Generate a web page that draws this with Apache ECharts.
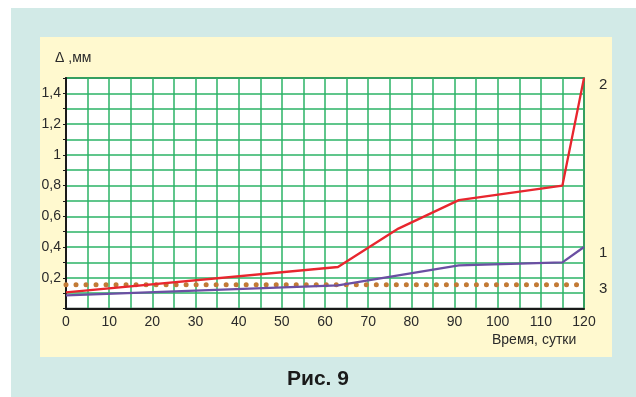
<!DOCTYPE html>
<html>
<head>
<meta charset="utf-8">
<style>
html,body{margin:0;padding:0;background:#fff;}
#c{width:636px;height:397px;}
</style>
<script src="https://cdn.jsdelivr.net/npm/echarts@6/dist/echarts.min.js"></script>
</head>
<body>
<div id="c"></div>
<script>
// Data
var xTicks = [0, 10, 20, 30, 40, 50, 60, 70, 80, 90, 100, 110, 120];
var yTickLabels = ['0,2', '0,4', '0,6', '0,8', '1', '1,2', '1,4'];
var curve2Days = [0, 63, 77, 91, 115, 120];
var curve2Vals = [0.105, 0.27, 0.52, 0.705, 0.80, 1.50];
var curve1Days = [0, 63, 91, 115, 120];
var curve1Vals = [0.085, 0.15, 0.28, 0.30, 0.40];
var curve3Days = [0, 120];
var curve3Vals = [0.155, 0.155];
var curveNames = ['2', '1', '3'];

function pairs(xs, ys) { return xs.map(function (x, i) { return [x, ys[i]]; }); }

var chart = echarts.init(document.getElementById('c'), null, { renderer: 'canvas' });
var font = '"Liberation Sans", Arial, sans-serif';
chart.setOption({
  backgroundColor: '#ffffff',
  animation: false,
  graphic: [
    { type: 'rect', z: -10, shape: { x: 11, y: 8, width: 625, height: 389 }, style: { fill: '#d2eae7' } },
    { type: 'rect', z: -9, shape: { x: 40, y: 37, width: 572, height: 320 }, style: { fill: '#fff9cf' } },
    { type: 'text', left: 55, top: 51, style: { text: 'Δ ,мм', font: '14px ' + font, fill: '#2a2a2a' } },
    { type: 'text', left: 492, top: 333, style: { text: 'Время, сутки', font: '14px ' + font, fill: '#2a2a2a' } },
    { type: 'text', left: 599, top: 77, style: { text: curveNames[0], font: '15px ' + font, fill: '#2a2a2a' } },
    { type: 'text', left: 599, top: 245, style: { text: curveNames[1], font: '15px ' + font, fill: '#2a2a2a' } },
    { type: 'text', left: 599, top: 281, style: { text: curveNames[2], font: '15px ' + font, fill: '#2a2a2a' } },
    { type: 'text', left: 'center', top: 369, style: { text: 'Рис. 9', font: 'bold 21px ' + font, fill: '#1a1a1a' } }
  ],
  grid: {
    left: 66, top: 78, right: 52, height: 230.5,
    show: true, backgroundColor: '#ffffff', borderColor: '#1c3324', borderWidth: 1.5
  },
  xAxis: {
    type: 'value', min: 0, max: 120, interval: 5,
    axisLine: { show: true, onZero: false, lineStyle: { color: '#1a1a1a', width: 2 } },
    axisTick: { show: false },
    axisLabel: {
      margin: 7, color: '#2a2a2a', fontSize: 14, fontFamily: font,
      formatter: function (v) { return xTicks.indexOf(v) >= 0 ? String(v) : ''; }
    },
    splitLine: { show: true, lineStyle: { color: '#2bb366', width: 1.5 } }
  },
  yAxis: {
    type: 'value', min: 0, max: 1.5, interval: 0.1,
    axisLine: { show: true, lineStyle: { color: '#1a1a1a', width: 2 } },
    axisTick: { show: true, length: 3, lineStyle: { color: '#1a1a1a' } },
    axisLabel: {
      margin: 5, color: '#2a2a2a', fontSize: 14, fontFamily: font,
      formatter: function (v) {
        var k = Math.round(v * 10);
        if (k > 0 && k % 2 === 0 && k <= 14) return yTickLabels[k / 2 - 1];
        return '';
      }
    },
    splitLine: { show: true, lineStyle: { color: '#2bb366', width: 1.5 } }
  },
  series: [
    { name: curveNames[2], type: 'line', data: pairs(curve3Days, curve3Vals), symbol: 'none', z: 3,
      lineStyle: { color: '#c27a35', width: 5, type: [0.01, 10], cap: 'round' } },
    { name: curveNames[1], type: 'line', data: pairs(curve1Days, curve1Vals), symbol: 'none', z: 4,
      lineStyle: { color: '#6b4fa3', width: 2.3 } },
    { name: curveNames[0], type: 'line', data: pairs(curve2Days, curve2Vals), symbol: 'none', z: 5,
      lineStyle: { color: '#e8262e', width: 2.3 } }
  ]
});
</script>
</body>
</html>
